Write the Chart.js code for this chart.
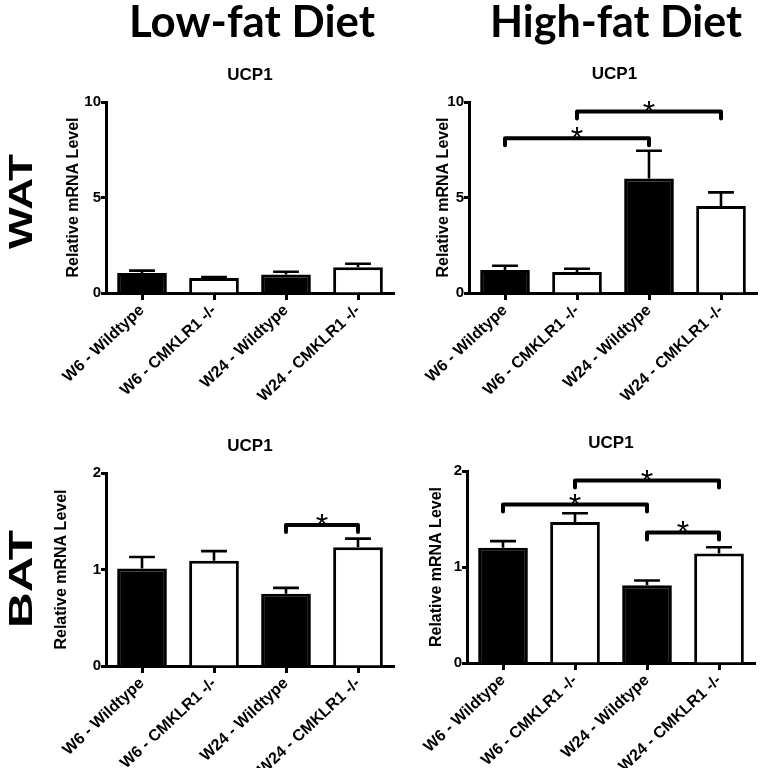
<!DOCTYPE html>
<html>
<head>
<meta charset="utf-8">
<script src="https://cdn.jsdelivr.net/npm/chart.js@4.4.1/dist/chart.umd.min.js"></script>
<style>
  html, body { margin: 0; padding: 0; background: #fff; }
  #wrap { position: relative; width: 762px; height: 768px; overflow: hidden; background: #fff; }
  .panel { position: absolute; }
  .panel canvas { display: block; }
  svg.overlay { position: absolute; left: 0; top: 0; pointer-events: none; }
</style>
</head>
<body>
<div id="wrap">
  <div class="panel" style="left:0px;top:90px;width:400px;height:310px"><canvas id="c0" width="400" height="310"></canvas></div>
  <div class="panel" style="left:400px;top:90px;width:362px;height:310px"><canvas id="c1" width="362" height="310"></canvas></div>
  <div class="panel" style="left:0px;top:461px;width:400px;height:307px"><canvas id="c2" width="400" height="307"></canvas></div>
  <div class="panel" style="left:400px;top:459px;width:362px;height:309px"><canvas id="c3" width="362" height="309"></canvas></div>
  <svg class="overlay" width="762" height="768" xmlns="http://www.w3.org/2000/svg">
    <text x="129" y="37" font-family="Lato, 'Open Sans', sans-serif" font-weight="bold" font-size="43" textLength="246" lengthAdjust="spacingAndGlyphs" fill="#000">Low-fat Diet</text>
    <text x="490" y="37" font-family="Lato, 'Open Sans', sans-serif" font-weight="bold" font-size="43" textLength="252" lengthAdjust="spacingAndGlyphs" fill="#000">High-fat Diet</text>
    <text transform="translate(32,249) rotate(-90)" x="0" y="0" font-family="'Liberation Sans', Arial, sans-serif" font-weight="bold" font-size="33.5" textLength="95" lengthAdjust="spacingAndGlyphs" fill="#000">WAT</text>
    <text transform="translate(32,628) rotate(-90)" x="0" y="0" font-family="'Liberation Sans', Arial, sans-serif" font-weight="bold" font-size="33.5" textLength="98" lengthAdjust="spacingAndGlyphs" fill="#000">BAT</text>
    <text x="250" y="79.5" text-anchor="middle" font-family="'Liberation Sans', Arial, sans-serif" font-weight="bold" font-size="17" fill="#000">UCP1</text>
    <text x="614.5" y="79" text-anchor="middle" font-family="'Liberation Sans', Arial, sans-serif" font-weight="bold" font-size="17" fill="#000">UCP1</text>
    <text x="250" y="451" text-anchor="middle" font-family="'Liberation Sans', Arial, sans-serif" font-weight="bold" font-size="17" fill="#000">UCP1</text>
    <text x="611" y="448" text-anchor="middle" font-family="'Liberation Sans', Arial, sans-serif" font-weight="bold" font-size="17" fill="#000">UCP1</text>
  </svg>
</div>
<script>
// ---------------- data ----------------
const categories = ["W6 - Wildtype", "W6 - CMKLR1 -/-", "W24 - Wildtype", "W24 - CMKLR1 -/-"];
const barColors = ["#000000", "#ffffff", "#000000", "#ffffff"];

const watLowMean  = [1.05, 0.78, 0.97, 1.35];
const watLowSem   = [0.12, 0.05, 0.14, 0.18];
const watHighMean = [1.20, 1.10, 6.00, 4.55];
const watHighSem  = [0.23, 0.17, 1.45, 0.72];
const batLowMean  = [1.01, 1.09, 0.75, 1.23];
const batLowSem   = [0.12, 0.10, 0.06, 0.09];
const batHighMean = [1.20, 1.47, 0.81, 1.14];
const batHighSem  = [0.07, 0.09, 0.05, 0.065];

const watYMax = 10, watYStep = 5;
const batYMax = 2,  batYStep = 1;

// significance brackets: [from category, to category, bracket level]
const watLowSig  = [];
const watHighSig = [[0, 2, 8.1], [1, 3, 9.5]];
const batLowSig  = [[2, 3, 1.46]];
const batHighSig = [[0, 2, 1.65], [1, 3, 1.9], [2, 3, 1.36]];

const yTitle = "Relative mRNA Level";
const sigMark = "*";

// ---------------- drawing ----------------
const FONT = "'Liberation Sans', Arial, Helvetica, sans-serif";

const errorBarPlugin = {
  id: 'errorBars',
  afterDatasetsDraw(chart, args, opts) {
    const ctx = chart.ctx;
    const meta = chart.getDatasetMeta(0);
    const y = chart.scales.y;
    const x = chart.scales.x;
    const sems = opts.sems || [];
    const means = chart.data.datasets[0].data;
    ctx.save();
    ctx.strokeStyle = '#000';
    ctx.lineWidth = 2.6;
    ctx.lineCap = 'butt';
    meta.data.forEach((bar, i) => {
      const cx = bar.x;
      const y0 = y.getPixelForValue(means[i]);
      const y1 = y.getPixelForValue(means[i] + sems[i]);
      const half = bar.width * 0.26;
      ctx.beginPath();
      ctx.moveTo(cx, y0);
      ctx.lineTo(cx, y1);
      ctx.moveTo(cx - half, y1);
      ctx.lineTo(cx + half, y1);
      ctx.stroke();
    });
    const sig = opts.sig || [];
    ctx.lineWidth = 4;
    ctx.lineJoin = 'round';
    ctx.lineCap = 'round';
    sig.forEach(([a, b, lvl]) => {
      const xa = x.getPixelForValue(a);
      const xb = x.getPixelForValue(b);
      const yl = y.getPixelForValue(lvl);
      ctx.beginPath();
      ctx.moveTo(xa, yl + 7);
      ctx.lineTo(xa, yl);
      ctx.lineTo(xb, yl);
      ctx.lineTo(xb, yl + 7);
      ctx.stroke();
      ctx.fillStyle = '#000';
      ctx.font = 'normal 32px ' + FONT;
      ctx.textAlign = 'center';
      ctx.textBaseline = 'alphabetic';
      ctx.fillText(sigMark, (xa + xb) / 2, yl + 11);
    });
    ctx.restore();
  }
};

function makeChart(id, means, sems, sig, yMax, yStep, padLeft, yAxisWidth, padTop, padRight, xAxisHeight) {
  return new Chart(document.getElementById(id), {
    type: 'bar',
    data: {
      labels: categories,
      datasets: [{
        data: means,
        backgroundColor: barColors,
        borderColor: '#000',
        borderWidth: 3,
        borderSkipped: 'start',
        categoryPercentage: 1.0,
        barPercentage: 0.69
      }]
    },
    options: {
      responsive: false,
      animation: false,
      devicePixelRatio: 1,
      layout: { padding: { top: padTop, right: padRight, left: padLeft, bottom: 0 } },
      plugins: {
        legend: { display: false },
        tooltip: { enabled: false },
        title: { display: false },
        errorBars: { sems: sems, sig: sig }
      },
      scales: {
        x: {
          offset: true,
          grid: { display: true, drawOnChartArea: false, drawTicks: true, tickLength: 7, tickWidth: 3, tickColor: '#000', offset: false },
          border: { display: true, color: '#000', width: 3 },
          ticks: { color: '#000', font: { family: FONT, size: 16, weight: 'bold' }, maxRotation: 43, minRotation: 43, autoSkip: false, padding: 1 },
          afterFit(s) { s.height = xAxisHeight; s.paddingLeft = 0; s.paddingRight = 0; }
        },
        y: {
          min: 0, max: yMax,
          ticks: { stepSize: yStep, color: '#000', font: { family: FONT, size: 15, weight: 'bold' }, padding: 0 },
          grid: { display: true, drawOnChartArea: false, drawTicks: true, tickLength: 5, tickWidth: 3, tickColor: '#000' },
          border: { display: true, color: '#000', width: 3 },
          title: { display: true, text: yTitle, color: '#000', font: { family: FONT, size: 16, weight: 'bold' }, padding: 0 },
          afterFit(s) { s.width = yAxisWidth; }
        }
      }
    },
    plugins: [errorBarPlugin]
  });
}

makeChart('c0', watLowMean,  watLowSem,  watLowSig,  watYMax, watYStep, 64, 42, 12, 6, 107);
makeChart('c1', watHighMean, watHighSem, watHighSig, watYMax, watYStep, 34, 35, 12, 5, 107);
makeChart('c2', batLowMean,  batLowSem,  batLowSig,  batYMax, batYStep, 52, 54, 12, 6, 102);
makeChart('c3', batHighMean, batHighSem, batHighSig, batYMax, batYStep, 27, 40, 12, 7, 105);
</script>
</body>
</html>
